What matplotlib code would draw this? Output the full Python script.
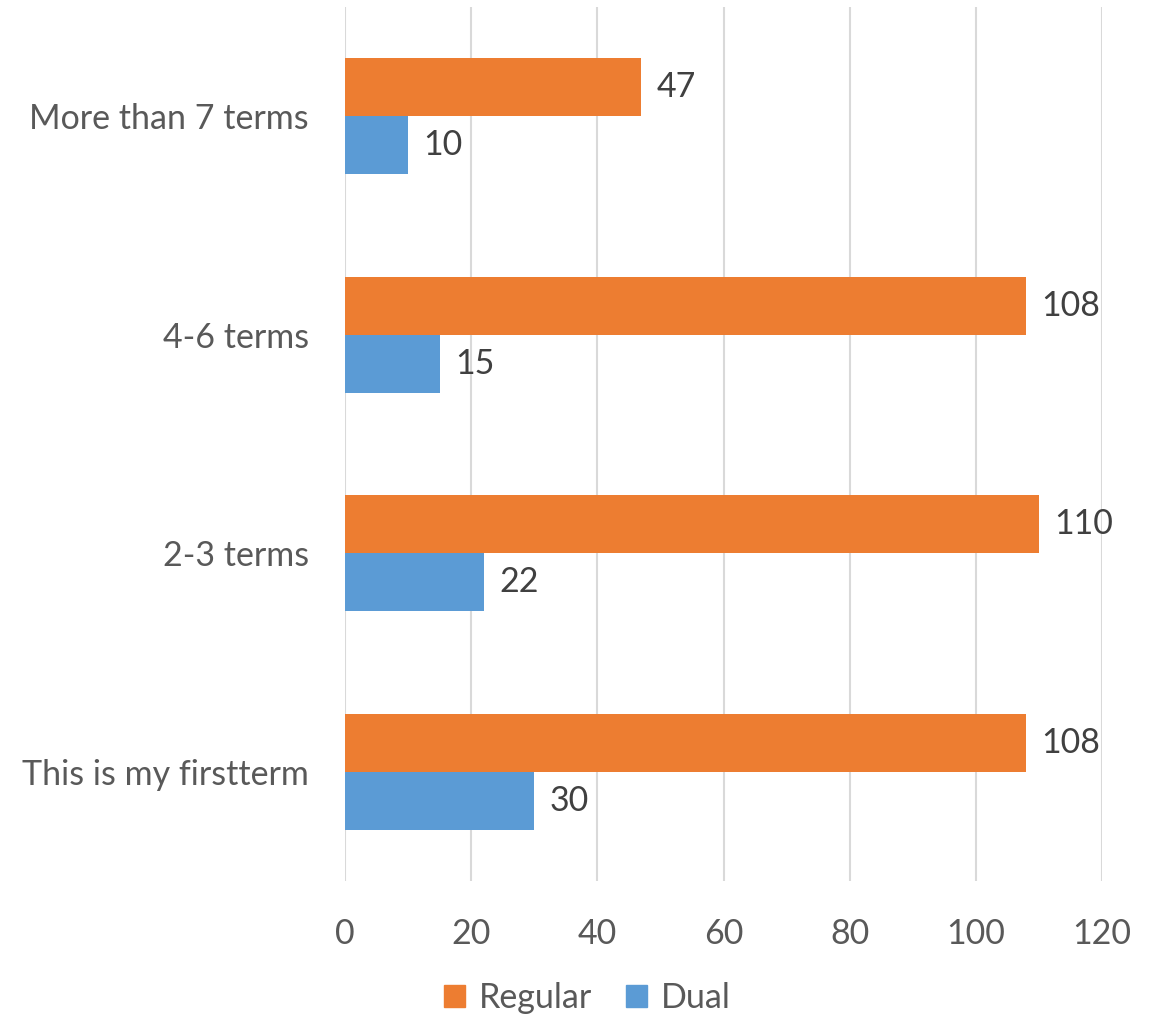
import matplotlib
matplotlib.use("Agg")
import matplotlib.pyplot as plt
from matplotlib.patches import Patch

categories = ["This is my firstterm", "2-3 terms", "4-6 terms", "More than 7 terms"]
regular = [108, 110, 108, 47]
dual = [30, 22, 15, 10]
xticks = [0, 20, 40, 60, 80, 100, 120]

ORANGE = "#ED7D31"
BLUE = "#5B9BD5"
GRID = "#D9D9D9"
TEXT = "#595959"
LABEL = "#404040"
FS = 24.5

plt.rcParams["font.family"] = ["Lato", "DejaVu Sans"]

fig = plt.figure(figsize=(11.67, 10.16), dpi=100)
ax = fig.add_axes([345 / 1167, 1 - 881 / 1016, (1102 - 345) / 1167, 874 / 1016])

h = 0.265
ys = list(range(len(categories)))
ax.barh([y + h / 2 for y in ys], regular, height=h, color=ORANGE, zorder=3)
ax.barh([y - h / 2 for y in ys], dual, height=h, color=BLUE, zorder=3)

for y, r, d in zip(ys, regular, dual):
    ax.annotate(str(r), (r, y + h / 2), xytext=(11, 0), textcoords="offset points",
                va="center", ha="left", fontsize=FS, color=LABEL)
    ax.annotate(str(d), (d, y - h / 2), xytext=(11, 0), textcoords="offset points",
                va="center", ha="left", fontsize=FS, color=LABEL)

ax.set_xlim(0, 120)
ax.set_ylim(-0.5, len(categories) - 0.5)
ax.set_xticks(xticks)
ax.set_xticklabels([str(t) for t in xticks])
ax.set_yticks(ys)
ax.set_yticklabels(categories)
ax.tick_params(axis="both", length=0, labelsize=FS, labelcolor=TEXT)
ax.tick_params(axis="x", pad=27)
ax.tick_params(axis="y", pad=26)
for s in ax.spines.values():
    s.set_visible(False)
ax.xaxis.grid(True, color=GRID, linewidth=1.5, zorder=0)
ax.set_axisbelow(True)

handles = [Patch(color=ORANGE, label="Regular"), Patch(color=BLUE, label="Dual")]
fig.legend(handles=handles, loc="center", bbox_to_anchor=(587 / 1167, 1 - 998 / 1016),
           ncol=2, frameon=False, fontsize=FS, labelcolor=TEXT,
           handlelength=0.62, handleheight=0.62, handletextpad=0.4, columnspacing=1.0)

fig.savefig("out.png", dpi=100)
